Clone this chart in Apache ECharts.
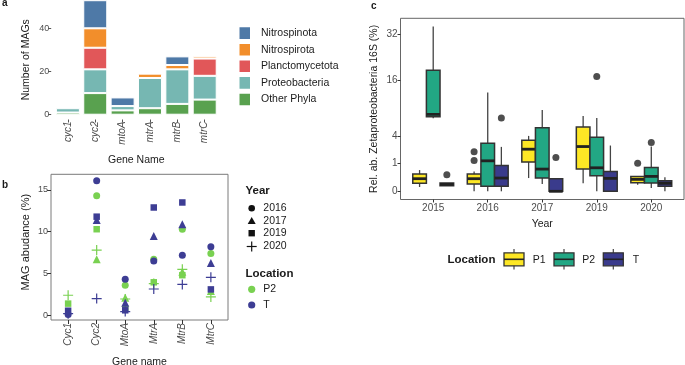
<!DOCTYPE html>
<html><head><meta charset="utf-8">
<script src="https://cdn.jsdelivr.net/npm/echarts@6/dist/echarts.min.js"></script>
<style>html,body{margin:0;padding:0;background:#fff}#c{width:685px;height:365px}</style>
</head><body><div id="c"></div>
<script>
// ---- Panel a: number of MAGs per gene, stacked by phylum ----
const genesA = ['cyc1','cyc2','mtoA','mtrA','mtrB','mtrC'];
const phylaLegend = ['Nitrospinota','Nitrospirota','Planctomycetota','Proteobacteria','Other Phyla'];
const otherPhyla      = [1, 10, 2, 3, 5, 7];
const proteobacteria  = [2, 11, 2, 14, 16, 11];
const planctomycetota = [0, 10, 0, 0, 0, 8];
const nitrospirota    = [0, 9, 0, 2, 2, 1];
const nitrospinota    = [0, 13, 4, 0, 4, 0];
const ticksA = [0, 20, 40];

// ---- Panel b: MAG abundance (%) ----
const genesB = ['Cyc1','Cyc2','MtoA','MtrA','MtrB','MtrC'];
const yearsB = ['2016','2017','2019','2020'];
const P2_2016 = [null, 14.3, 3.6, 6.7, 10.3, 7.4];
const P2_2017 = [null, 6.7, 2.1, null, 5.2, 2.9];
const P2_2019 = [1.4, 10.3, 0.8, 3.95, 4.8, null];
const P2_2020 = [2.4, 7.8, 1.95, 3.8, 5.5, 2.2];
const T_2016  = [0.1, 16.1, 4.3, 6.5, 7.2, 8.2];
const T_2017  = [null, 11.4, 1.5, 9.5, 10.9, 6.25];
const T_2019  = [0.55, 11.8, 0.6, 12.9, 13.5, 3.1];
const T_2020  = [0.2, 2.0, 0.45, 3.15, 3.7, 4.55];
const ticksB = [0, 5, 10, 15];

// ---- Panel c: Rel. ab. Zetaproteobacteria 16S (%) box stats [low, q1, median, q3, high] ----
const yearsC = ['2015','2016','2017','2019','2020'];
const boxP1 = [[0.024,0.082,0.207,0.387,0.587],[0,0.069,0.207,0.387,0.516],[0.229,1.11,2.31,3.4,4.0],[0.082,0.643,2.61,5.39,7.38],[0.057,0.097,0.186,0.29,0.29]];
const boxP2 = [[6.93,7.25,7.71,19.1,35.4],[0,0.032,1.21,3.01,12.7],[0.069,0.229,0.643,5.28,8.6],[0,0.317,0.72,3.81,7.0],[0.014,0.09,0.29,0.74,2.61]];
const boxT  = [[0.041,0.041,0.063,0.09,0.09],[0,0.032,0.229,0.87,2.57],[0,0,0,0.207,0.207],[0,0,0.218,0.516,2.73],[0,0.032,0.083,0.147,0.253]];
// outliers: [yearIndex, value]
const outP1 = [[1,2.03],[1,1.24],[4,1.03]];
const outP2 = [[3,17.15],[4,3.1]];
const outT  = [[0,0.36],[1,7.0],[2,1.49]];
const ticksC = [0, 1, 4, 16, 32];

const FONT = 'Liberation Sans';
const colPhyla = {'Nitrospinota':'#4E79A7','Nitrospirota':'#F28E2B','Planctomycetota':'#E15759','Proteobacteria':'#76B7B2','Other Phyla':'#59A14F'};
const colP2b = '#79D151', colTb = '#3D3D94';
const colP1 = '#FDE725', colP2 = '#22A784', colT = '#3A3B8C';

const chart = echarts.init(document.getElementById('c'));

function barSeries(name, arr) {
  return {type:'bar', name, xAxisIndex:0, yAxisIndex:0, stack:'a', barWidth:24,
    data: arr.map(v => v ? v : null),
    itemStyle:{color:colPhyla[name], borderColor:'#fff', borderWidth:1}};
}
const plusPath = 'path://M0,4.4H10V5.6H0Z M4.4,0H5.6V10H4.4Z';
const yearSym = {'2016':['circle',7], '2017':['triangle',8], '2019':['rect',6.5], '2020':[plusPath,10]};
function scatterB(arr, year, color) {
  return {type:'scatter', xAxisIndex:1, yAxisIndex:1, symbol:yearSym[year][0], symbolSize:yearSym[year][1],
    itemStyle:{color, opacity:1}, silent:true,
    data: arr.map((v,i) => v === null ? null : [i, v]).filter(d => d)};
}
const sq = v => Math.sqrt(v);
function boxSeries(stats, offset, color) {
  return {type:'custom', xAxisIndex:2, yAxisIndex:2, silent:true,
    itemStyle:{color},
    encode:{x:0, y:[1,2,3,4,5]},
    data: stats.map((s,i) => [i+offset, sq(s[0]), sq(s[1]), sq(s[2]), sq(s[3]), sq(s[4])]),
    renderItem(params, api) {
      const x = api.value(0);
      const lo = api.coord([x, api.value(1)]);
      const q1 = api.coord([x, api.value(2)]);
      const md = api.coord([x, api.value(3)]);
      const q3 = api.coord([x, api.value(4)]);
      const hi = api.coord([x, api.value(5)]);
      const w = api.size([0.25, 0])[0];
      return {type:'group', children:[
        {type:'line', shape:{x1:lo[0], y1:lo[1], x2:hi[0], y2:hi[1]}, style:{stroke:'#444', lineWidth:1.3}},
        {type:'rect', shape:{x:q1[0]-w/2, y:q3[1], width:w, height:Math.max(q1[1]-q3[1],0.1)}, style:{fill:color, stroke:'#333', lineWidth:1.5}},
        {type:'line', shape:{x1:md[0]-w/2, y1:md[1], x2:md[0]+w/2, y2:md[1]}, style:{stroke:'#222', lineWidth:2.8}}
      ]};
    }};
}
function outlierSeries(arr, offset) {
  return {type:'scatter', xAxisIndex:2, yAxisIndex:2, symbol:'circle', symbolSize:7, silent:true,
    itemStyle:{color:'#222'}, data: arr.map(d => [d[0]+offset, sq(d[1])])};
}

const tickLbl = {fontFamily:FONT, fontSize:9, color:'#4d4d4d'};
const nameSty = {fontFamily:FONT, fontSize:10.5, color:'#1a1a1a'};

function txt(x, y, text, opt) {
  return Object.assign({type:'text', x, y, silent:true, style:Object.assign({text, fontFamily:FONT, fontSize:10.5, fill:'#1a1a1a', textAlign:'left', textVerticalAlign:'middle'}, opt||{})});
}
const g = [];
// panel letters
g.push(txt(2, 3, 'a', {fontWeight:'bold', fontSize:10}));
g.push(txt(2, 185.5, 'b', {fontWeight:'bold', fontSize:10}));
g.push(txt(371, 6, 'c', {fontWeight:'bold', fontSize:10}));
// legend b
g.push(txt(245.5, 191, 'Year', {fontWeight:'bold', fontSize:11.5}));
const ly = [208.3, 220.7, 233.2, 246.5];
g.push({type:'circle', shape:{cx:251.7, cy:ly[0], r:3.3}, style:{fill:'#111'}});
g.push({type:'polygon', shape:{points:[[251.7,ly[1]-3.8],[247.7,ly[1]+3.2],[255.7,ly[1]+3.2]]}, style:{fill:'#111'}});
g.push({type:'rect', shape:{x:248.5, y:ly[2]-3.2, width:6.4, height:6.4}, style:{fill:'#111'}});
g.push({type:'line', shape:{x1:246.7, y1:ly[3], x2:256.7, y2:ly[3]}, style:{stroke:'#111', lineWidth:1.2}});
g.push({type:'line', shape:{x1:251.7, y1:ly[3]-5, x2:251.7, y2:ly[3]+5}, style:{stroke:'#111', lineWidth:1.2}});
yearsB.forEach((yv,i) => g.push(txt(263.3, ly[i], yv)));
g.push(txt(245.5, 274.3, 'Location', {fontWeight:'bold', fontSize:11.5}));
g.push({type:'circle', shape:{cx:251.7, cy:289.3, r:3.6}, style:{fill:colP2b}});
g.push({type:'circle', shape:{cx:251.7, cy:305, r:3.6}, style:{fill:colTb}});
g.push(txt(263.3, 289.3, 'P2'));
g.push(txt(263.3, 305, 'T'));
// legend c
g.push(txt(447.5, 260, 'Location', {fontWeight:'bold', fontSize:11.5}));
[[504, colP1, 'P1', 532.7],[554, colP2, 'P2', 582.3],[603.3, colT, 'T', 632.7]].forEach(([x0, c, lab, tx]) => {
  g.push({type:'line', shape:{x1:x0+10, y1:249, x2:x0+10, y2:269.5}, style:{stroke:'#444', lineWidth:1.2}});
  g.push({type:'rect', shape:{x:x0, y:252.8, width:20, height:13}, style:{fill:c, stroke:'#333', lineWidth:1.3}});
  g.push({type:'line', shape:{x1:x0, y1:259.3, x2:x0+20, y2:259.3}, style:{stroke:'#222', lineWidth:1.6}});
  g.push(txt(tx, 260, lab));
});

const noLine = {show:false, onZero:false};
const option = {
  animation:false,
  backgroundColor:'#fff',
  textStyle:{fontFamily:FONT},
  grid:[
    {left:54.2, top:0, width:164.2, height:119.5, outerBoundsMode:'none', containLabel:false},
    {left:51, top:174.3, width:177, height:145.7, show:true, borderColor:'#7a7a7a', borderWidth:1, outerBoundsMode:'none', containLabel:false},
    {left:400.5, top:18.3, width:283.5, height:181.2, show:true, borderColor:'#666', borderWidth:1, outerBoundsMode:'none', containLabel:false}
  ],
  legend:{
    orient:'vertical', left:237.5, top:25.3, itemWidth:12.5, itemHeight:13.6, itemGap:1, padding:0,
    icon:'rect', selectedMode:false, data:phylaLegend,
    textStyle:{fontFamily:FONT, fontSize:10.5, color:'#1a1a1a', padding:[0,0,0,5]}
  },
  xAxis:[
    {gridIndex:0, type:'category', data:genesA,
      axisLine:noLine, axisTick:{show:true, length:3, alignWithLabel:true, lineStyle:{color:'#555'}},
      axisLabel:{rotate:90, margin:2, fontStyle:'italic', fontFamily:FONT, fontSize:10, color:'#4d4d4d'},
      splitLine:{show:false},
      name:'Gene Name', nameLocation:'middle', nameGap:35, nameTextStyle:nameSty},
    {gridIndex:1, type:'value', min:-0.6, max:5.6,
      axisLine:noLine, splitLine:{show:false},
      axisTick:{show:true, length:4, customValues:[0,1,2,3,4,5], lineStyle:{color:'#333'}},
      axisLabel:{rotate:90, margin:3, fontStyle:'italic', fontFamily:FONT, fontSize:10, color:'#4d4d4d',
        customValues:[0,1,2,3,4,5], formatter:v => genesB[Math.round(v)]},
      name:'Gene name', nameLocation:'middle', nameGap:37, nameTextStyle:nameSty},
    {gridIndex:2, type:'value', min:-0.6, max:4.6,
      axisLine:noLine, splitLine:{show:false},
      axisTick:{show:true, length:3, customValues:[0,1,2,3,4], lineStyle:{color:'#333'}},
      axisLabel:{margin:4, fontFamily:FONT, fontSize:10, color:'#4d4d4d',
        customValues:[0,1,2,3,4], formatter:v => yearsC[Math.round(v)]},
      name:'Year', nameLocation:'middle', nameGap:19, nameTextStyle:nameSty}
  ],
  yAxis:[
    {gridIndex:0, type:'value', min:-2.22, max:53.1, offset:3,
      axisLine:noLine, splitLine:{show:false},
      axisTick:{show:true, length:3, customValues:ticksA, lineStyle:{color:'#555'}},
      axisLabel:Object.assign({margin:2, customValues:ticksA}, tickLbl),
      name:'Number of MAGs', nameLocation:'middle', nameGap:20, nameTextStyle:nameSty},
    {gridIndex:1, type:'value', min:-0.56, max:16.87,
      axisLine:noLine, splitLine:{show:false},
      axisTick:{show:true, length:4, customValues:ticksB, lineStyle:{color:'#333'}},
      axisLabel:Object.assign({margin:3, customValues:ticksB}, tickLbl),
      name:'MAG abudance (%)', nameLocation:'middle', nameGap:20, nameTextStyle:Object.assign({}, nameSty, {fontSize:11, padding:[0,0,0,10]})},
    {gridIndex:2, type:'value', min:-0.296, max:6.245,
      axisLine:noLine, splitLine:{show:false},
      axisTick:{show:true, length:3, customValues:ticksC.map(sq), lineStyle:{color:'#333'}},
      axisLabel:Object.assign({margin:3, customValues:ticksC.map(sq), formatter:v => String(Math.round(v*v))}, tickLbl, {fontSize:10}),
      name:'Rel. ab. Zetaproteobacteria 16S (%)', nameLocation:'middle', nameGap:21, nameTextStyle:nameSty}
  ],
  series:[
    barSeries('Other Phyla', otherPhyla),
    barSeries('Proteobacteria', proteobacteria),
    barSeries('Planctomycetota', planctomycetota),
    barSeries('Nitrospirota', nitrospirota),
    barSeries('Nitrospinota', nitrospinota),
    scatterB(P2_2016,'2016',colP2b), scatterB(P2_2017,'2017',colP2b), scatterB(P2_2019,'2019',colP2b), scatterB(P2_2020,'2020',colP2b),
    scatterB(T_2016,'2016',colTb), scatterB(T_2017,'2017',colTb), scatterB(T_2019,'2019',colTb), scatterB(T_2020,'2020',colTb),
    boxSeries(boxP1, -0.25, colP1), boxSeries(boxP2, 0, colP2), boxSeries(boxT, 0.25, colT),
    outlierSeries(outP1, -0.25), outlierSeries(outP2, 0), outlierSeries(outT, 0.25)
  ],
  graphic:{elements:g}
};
chart.setOption(option);
</script></body></html>
